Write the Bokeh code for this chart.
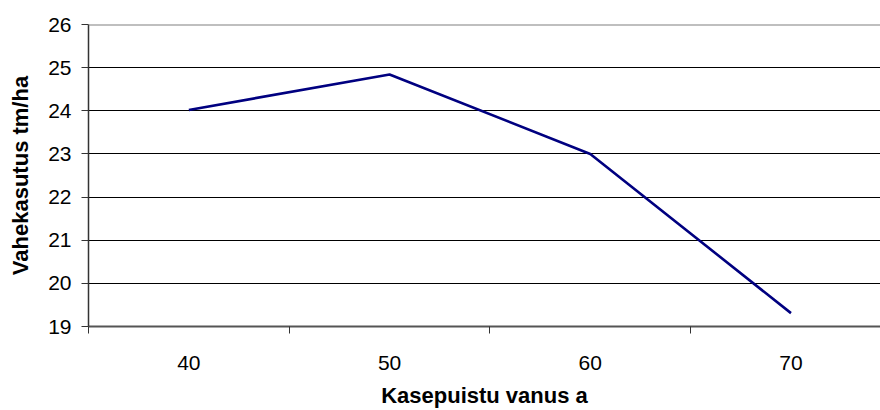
from bokeh.plotting import figure
from bokeh.models import FixedTicker, Span, Range1d
from bokeh.embed import file_html
from bokeh.resources import INLINE

# data
categories = ["40", "50", "60", "70"]
values = [24.02, 24.84, 23.0, 19.31]
y_ticks = [19, 20, 21, 22, 23, 24, 25, 26]

xs = list(range(1, len(categories) + 1))

p = figure(width=880, height=410, output_backend="svg", toolbar_location=None,
           x_range=Range1d(0.5, 4.446), y_range=Range1d(19, 26),
           min_border_left=88, min_border_top=24, min_border_bottom=84, min_border_right=0)
p.outline_line_color = None
p.background_fill_color = "white"
p.border_fill_color = "white"

p.line(xs, values, line_color="#000080", line_width=2.6)

# top border of plot area
p.add_layout(Span(location=26, dimension="width", line_color="#808080", line_width=2))

font = "Liberation Sans"
# x axis
p.xaxis.ticker = FixedTicker(ticks=xs, minor_ticks=[0.5, 1.5, 2.5, 3.5, 4.5])
p.xaxis.major_label_overrides = {x: c for x, c in zip(xs, categories)}
p.xaxis.major_tick_out = 0
p.xaxis.major_tick_in = 0
p.xaxis.minor_tick_out = 7
p.xaxis.minor_tick_in = 0
p.xaxis.minor_tick_line_color = "#333333"
p.xaxis.axis_line_color = "#555555"
p.xaxis.axis_line_width = 2
p.xaxis.major_label_standoff = 22
p.xaxis.major_label_text_font = font
p.xaxis.major_label_text_font_size = "21px"
p.xaxis.major_label_text_color = "black"
p.xaxis.axis_label = "Kasepuistu vanus a"
p.xaxis.axis_label_text_font = font
p.xaxis.axis_label_text_font_style = "bold"
p.xaxis.axis_label_text_font_size = "22px"
p.xaxis.axis_label_text_color = "black"
p.xaxis.axis_label_standoff = 10

# y axis
p.yaxis.ticker = FixedTicker(ticks=y_ticks)
p.yaxis.minor_tick_line_color = None
p.yaxis.major_tick_out = 7
p.yaxis.major_tick_in = 0
p.yaxis.major_tick_line_color = "#333333"
p.yaxis.axis_line_color = "#333333"
p.yaxis.axis_line_width = 1.5
p.yaxis.major_label_standoff = 10
p.yaxis.major_label_text_font = font
p.yaxis.major_label_text_font_size = "21px"
p.yaxis.major_label_text_color = "black"
p.yaxis.axis_label = "Vahekasutus tm/ha"
p.yaxis.axis_label_text_font = font
p.yaxis.axis_label_text_font_style = "bold"
p.yaxis.axis_label_text_font_size = "22px"
p.yaxis.axis_label_text_color = "black"
p.yaxis.axis_label_standoff = 12

# grid
p.xgrid.grid_line_color = None
p.ygrid.ticker = FixedTicker(ticks=y_ticks)
p.ygrid.grid_line_color = "black"
p.ygrid.grid_line_width = 1

open("out.html", "w").write(file_html(p, INLINE))
